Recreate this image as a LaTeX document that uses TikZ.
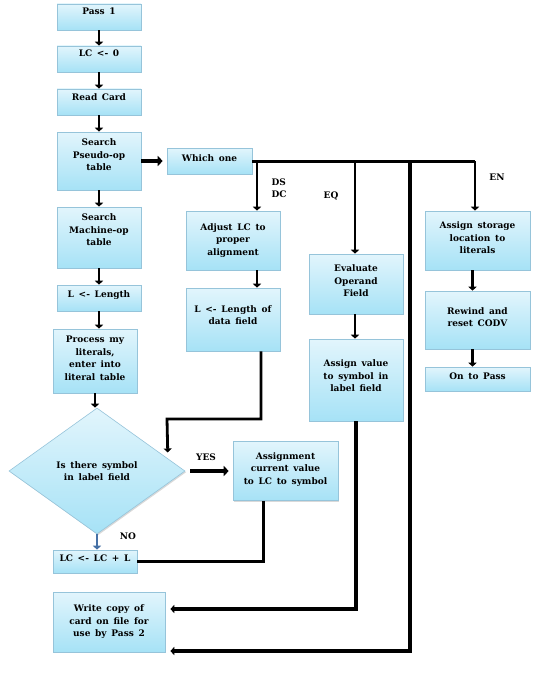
\documentclass[tikz,border=0pt]{standalone}
\usepackage{fontspec}
\setmainfont{DejaVu Serif}[WordSpace=1.5]
\usetikzlibrary{shapes.geometric,arrows.meta,shadows}
\definecolor{cardtop}{RGB}{226,245,252}
\definecolor{cardbot}{RGB}{166,226,246}
\definecolor{cardline}{RGB}{150,196,218}
\definecolor{noblue}{RGB}{70,112,165}
\begin{document}
\begin{tikzpicture}[x=1pt,y=-1pt,
	card/.style={draw=cardline, line width=0.6pt, top color=cardtop, bottom color=cardbot,
		align=center, inner sep=1pt, font=\bfseries\fontsize{9}{12.5}\selectfont,
		drop shadow={shadow xshift=1.2pt, shadow yshift=-1.2pt, opacity=0.3}},
	lift/.style={text depth=#1},
	lbl/.style={align=left, inner sep=0pt, font=\bfseries\fontsize{9}{12}\selectfont},
	line/.style={line width=3pt},
	arr/.style={line width=2.8pt, -{Triangle[length=4pt,width=8pt]}},
	bigarr/.style={line width=4.5pt, -{Triangle[length=5pt,width=10pt]}}]
	\useasboundingbox (0,0) rectangle (549,674);
	
	% main column
	\node[card, minimum width=84pt, minimum height=26pt, lift=12pt] (pass) at (99,17) {Pass 1};
	\node[card, minimum width=84pt, minimum height=26pt, lift=12pt] (lc0) at (99,59) {LC <- 0};
	\node[card, minimum width=84pt, minimum height=26pt, lift=10pt] (read) at (99,102) {Read Card};
	\node[card, minimum width=84pt, minimum height=58pt, lift=12pt] (pseudo) at (99,161) {Search\\Pseudo-op\\table};
	\node[card, minimum width=84pt, minimum height=61pt, lift=15pt] (machine) at (99,237.5) {Search\\Machine-op\\table};
	\node[card, minimum width=84pt, minimum height=26pt, lift=8pt] (len) at (99,298) {L <- Length};
	\node[card, minimum width=84pt, minimum height=64pt, lift=6pt] (lit) at (95,361) {Process my\\literals,\\enter into\\literal table};
	\node[card, shape=diamond, minimum width=176pt, minimum height=126pt, inner sep=0pt] (sym) at (97,471) {Is there symbol\\in label field};
	\node[card, minimum width=84pt, minimum height=23pt, lift=7pt] (lcl) at (95,561.5) {LC <- LC + L};
	\node[card, minimum width=112pt, minimum height=60pt] (write) at (109,622) {Write copy of\\card on file for\\use by Pass 2};
	\node[card, minimum width=105pt, minimum height=59pt, lift=5pt] (assign) at (285.5,471) {Assignment\\current value\\to LC to symbol};
	
	% pseudo-op branches
	\node[card, minimum width=85pt, minimum height=26pt, lift=5pt] (which) at (209.5,161) {Which one};
	\node[card, minimum width=94pt, minimum height=59pt] (adjust) at (233,240.5) {Adjust LC to\\proper\\alignment};
	\node[card, minimum width=94pt, minimum height=63pt, lift=9pt] (datafield) at (233,319.5) {L <- Length of\\data field};
	\node[card, minimum width=94pt, minimum height=60pt, lift=6pt] (evaluate) at (356,284) {Evaluate\\Operand\\Field};
	\node[card, minimum width=94pt, minimum height=82pt, lift=8pt] (assignval) at (356,380) {Assign value\\to symbol in\\label field};
	\node[card, minimum width=105pt, minimum height=59pt, lift=5pt] (storage) at (477.5,240.5) {Assign storage\\location to\\literals};
	\node[card, minimum width=105pt, minimum height=58pt, lift=6pt] (rewind) at (477.5,320) {Rewind and\\reset CODV};
	\node[card, minimum width=105pt, minimum height=24pt, lift=6pt] (onto) at (477.5,379) {On to Pass};
	
	% labels
	\node[lbl] (dsdc) at (279,188) {DS\\DC};
	\node[lbl] (eq) at (331,196) {EQ};
	\node[lbl] (en) at (497,177) {EN};
	\node[lbl] (yes) at (206,457) {YES};
	\node[lbl] (no) at (128,536) {NO};
	
	% taps on the bus
	\coordinate (tapds) at (257,161);
	\coordinate (tapeq) at (355,161);
	\coordinate (tapwr) at (410,161);
	\coordinate (bus) at (475,161);
	\coordinate (bend) at (167,419);
	
	\foreach \a/\b in {pass/lc0, lc0/read, read/pseudo, pseudo/machine, machine/len, len/lit, lit/sym}
	\draw[arr] (\a.south) -- (\a.south |- \b.north);
	
	\draw[bigarr, shorten >=4pt] (pseudo.east) -- (which.west);
	\draw[line] (which.east) -- (bus);
	\draw[arr] (tapds) -- (tapds |- adjust.north);
	\draw[arr] (tapeq) -- (tapeq |- evaluate.north);
	\draw[arr] (bus) -- (bus |- storage.north);
	\draw[arr] (adjust.south -| tapds) -- (tapds |- datafield.north);
	\draw[arr] (evaluate.south -| tapeq) -- (tapeq |- assignval.north);
	\draw[arr] ([xshift=-5pt]storage.south) -- ([xshift=-5pt]rewind.north);
	\draw[arr] ([xshift=-5pt]rewind.south) -- ([xshift=-5pt]onto.north);
	
	% back to the main column
	\draw[arr, shorten >=6pt] ([xshift=28pt]datafield.south) |- (bend) -- (sym.10);
	\draw[bigarr, shorten <=5pt, shorten >=4pt] (sym.east) -- (assign.west);
	\draw[line width=2.6pt, noblue, -{Triangle[length=4pt,width=8pt]}] (sym.south) -- (sym.south |- lcl.north);
	\draw[line] ([xshift=-22.5pt]assign.south) |- (lcl.east);
	\draw[arr, line width=3.5pt, shorten >=5pt] (assignval.south) |- ([yshift=13pt]write.east);
	\draw[arr, line width=3.5pt, shorten >=5pt] (tapwr) |- ([yshift=-29pt]write.east);
\end{tikzpicture}
\end{document}
